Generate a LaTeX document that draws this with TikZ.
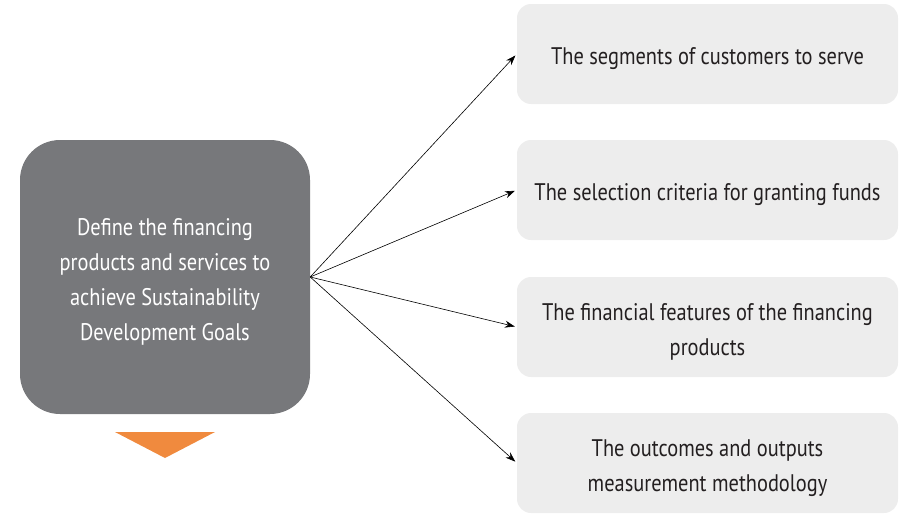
\documentclass[tikz,border=0pt]{standalone}
\usepackage{fontspec}
\setmainfont{PT Sans}[FakeStretch=0.85]
\usetikzlibrary{arrows.meta,positioning}
\definecolor{goalgray}{HTML}{77787B}
\definecolor{itemgray}{HTML}{EDEDED}
\definecolor{tiporange}{HTML}{F08A3E}
\definecolor{itemtext}{HTML}{231F20}
% taller first line, so the text sits a little lower in its box
\newcommand{\firstlinestrut}{\rule{0pt}{27pt}}

\begin{document}
\begin{tikzpicture}[x=1pt,y=-1pt,
		goal/.style={fill=goalgray, rounded corners=40pt, minimum width=290pt, minimum height=274pt,
			text=white, align=center, font=\fontsize{24}{35}\selectfont},
		item/.style={fill=itemgray, rounded corners=14pt, minimum width=381pt, minimum height=100pt,
			text=itemtext, align=center, font=\fontsize{24}{35}\selectfont},
		link/.style={-{Stealth[length=10pt,width=7pt]}, line width=0.6pt, shorten >=2pt}]
	\useasboundingbox (0,0) rectangle (899,514);

	\node[goal] at (165,277) (goal) {\firstlinestrut Define the financing\\products and services to\\achieve Sustainability\\Development Goals};
	\fill[tiporange] (115,432) -- (215,432) -- (165,458) -- cycle;

	\foreach \y/\txt [count=\i] in {54/{The segments of customers to serve},
			190/{The selection criteria for granting funds},
			327/{The financial features of the financing\\products},
			463/{The outcomes and outputs\\measurement methodology}}{
		\node[item] at (707.5,\y) (item\i) {\firstlinestrut\txt};
	}

	\foreach \i in {1,...,4}
		\draw[link] (goal.east) -- (item\i.west);
\end{tikzpicture}
\end{document}
